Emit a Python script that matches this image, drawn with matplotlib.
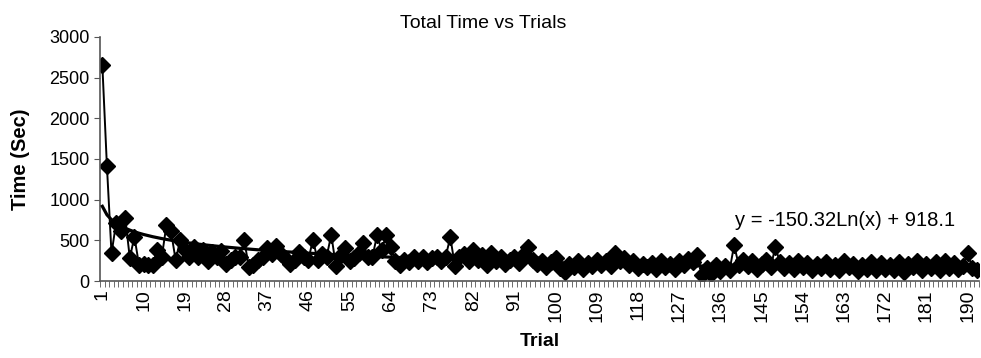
import numpy as np
from matplotlib import pyplot as plt

plt.rcParams['font.family'] = ['Liberation Sans', 'DejaVu Sans']

# time per trial (sec)
times = [
    2650, 1410, 340, 710, 610, 775, 283, 545, 200, 210,
    200, 200, 380, 300, 690, 610, 260, 500, 380, 300,
    420, 290, 380, 250, 360, 290, 370, 210, 260, 300,
    290, 500, 170, 200, 260, 290, 400, 330, 430, 330,
    280, 210, 260, 360, 290, 260, 510, 260, 330, 300,
    570, 190, 310, 400, 250, 280, 350, 470, 290, 300,
    560, 380, 560, 420, 250, 200, 260, 230, 300, 250,
    300, 230, 280, 300, 240, 300, 540, 190, 300, 330,
    240, 380, 260, 320, 200, 340, 250, 290, 210, 260,
    300, 220, 330, 420, 260, 210, 250, 170, 230, 280,
    160, 110, 210, 170, 240, 150, 220, 190, 260, 200,
    250, 180, 340, 240, 280, 200, 240, 160, 210, 170,
    220, 150, 240, 170, 210, 150, 250, 200, 270, 230,
    320, 80, 160, 90, 200, 120, 190, 130, 440, 200,
    260, 180, 240, 150, 210, 260, 170, 420, 230, 160,
    220, 150, 250, 170, 220, 140, 210, 160, 230, 150,
    200, 130, 240, 170, 210, 120, 200, 150, 230, 130,
    220, 150, 200, 130, 230, 110, 210, 170, 240, 130,
    210, 160, 230, 140, 240, 160, 220, 150, 190, 350,
    160, 140,
]
trials = list(range(1, len(times) + 1))
tick_trials = list(range(1, 191, 9))

# log trendline from the chart
a, b = -150.32, 918.1

fig = plt.figure(figsize=(9.81, 3.58), dpi=100)
ax = fig.add_axes([0.102, 0.215, 0.896, 0.682])

ax.plot(trials, times, color='black', lw=1.4, marker='D', markersize=8, zorder=2)
xs = np.array(trials, dtype=float)
ax.plot(xs, a * np.log(xs) + b, color='black', lw=2.3, zorder=3)

ax.set_xlim(0.5, len(times) + 0.5)
ax.set_ylim(0, 3000)
ax.set_yticks(range(0, 3001, 500))
ax.set_xticks(tick_trials)
ax.set_xticklabels([str(t) for t in tick_trials], rotation=90)
ax.set_xticks([t + 0.5 for t in range(0, len(times) + 1)], minor=True)
ax.tick_params(axis='x', which='major', length=0, labelsize=14, pad=6)
ax.tick_params(axis='x', which='minor', length=4, color='#555555')
ax.tick_params(axis='y', length=4, labelsize=13, color='#555555')

for s in ['top', 'right']:
    ax.spines[s].set_visible(False)
for s in ['left', 'bottom']:
    ax.spines[s].set_color('#555555')
    ax.spines[s].set_linewidth(1.2)

fig.text(0.493, 0.933, 'Total Time vs Trials', fontsize=14, ha='center', va='center')
ax.set_ylabel('Time (Sec)', fontsize=14.5, fontweight='bold', labelpad=14)
ax.set_xlabel('Trial', fontsize=14, fontweight='bold', labelpad=8)
ax.text(0.749, 0.385, 'y = -150.32Ln(x) + 918.1', transform=fig.transFigure,
        fontsize=14.5, ha='left', va='center')

fig.savefig('out.png', dpi=100)
